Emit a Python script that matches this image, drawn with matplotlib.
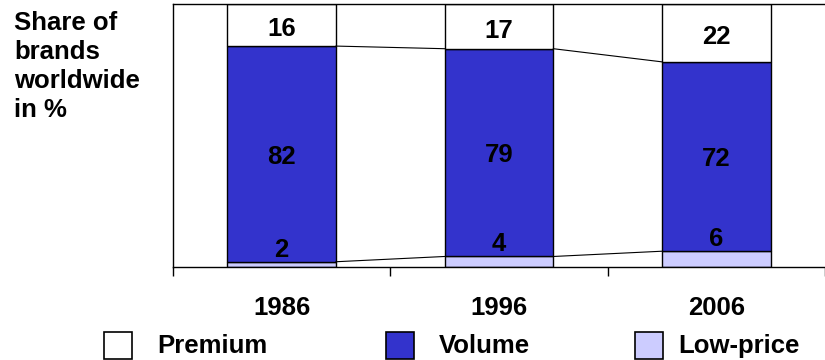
import matplotlib.pyplot as plt
from matplotlib.patches import Rectangle

# Brand segment shares per year (%)
years = ['1986', '1996', '2006']
low_price = [2, 4, 6]
volume = [82, 79, 72]
premium = [16, 17, 22]

col_premium = 'white'
col_volume = '#3333CC'
col_low = '#CCCCFF'

plt.rcParams['font.family'] = ['Liberation Sans', 'DejaVu Sans']
plt.rcParams['font.weight'] = 'bold'

fig = plt.figure(figsize=(8.25, 3.6), dpi=100)
ax = fig.add_axes([173 / 825, 1 - 267 / 360, 1 - 173 / 825, (267 - 4) / 360])

x = list(range(len(years)))
w = 0.5
vol_top = [l + v for l, v in zip(low_price, volume)]

ax.bar(x, low_price, w, color=col_low, edgecolor='black', linewidth=1)
ax.bar(x, volume, w, bottom=low_price, color=col_volume, edgecolor='black', linewidth=1)
ax.bar(x, premium, w, bottom=vol_top, color=col_premium, edgecolor='black', linewidth=1)

# connecting lines between neighbouring bars
for i in range(len(x) - 1):
    ax.plot([x[i] + w / 2, x[i + 1] - w / 2], [vol_top[i], vol_top[i + 1]], color='black', lw=0.8)
    ax.plot([x[i] + w / 2, x[i + 1] - w / 2], [low_price[i], low_price[i + 1]], color='black', lw=0.8)

fs = 18.5
for i in x:
    ax.annotate(str(premium[i]), (i, vol_top[i] + premium[i] / 2), xytext=(0, -3),
                textcoords='offset points', ha='center', va='center', fontsize=fs, fontweight='bold')
    ax.annotate(str(volume[i]), (i, low_price[i] + volume[i] / 2), xytext=(0, -2),
                textcoords='offset points', ha='center', va='center', fontsize=fs, fontweight='bold')
    ax.annotate(str(low_price[i]), (i, low_price[i]), xytext=(0, 0),
                textcoords='offset points', ha='center', va='bottom', fontsize=fs, fontweight='bold')

ax.set_xlim(-0.5, 2.5)
ax.set_ylim(0, 100)
ax.set_xticks(x)
ax.set_xticklabels(years, fontsize=fs, fontweight='bold')
ax.set_xticks([-0.5, 0.5, 1.5, 2.5], minor=True)
ax.tick_params(axis='x', which='major', length=0, pad=21)
ax.tick_params(axis='x', which='minor', length=6.5, width=1, direction='out')
ax.set_yticks([])
ax.spines['right'].set_visible(False)
for s in ['left', 'top', 'bottom']:
    ax.spines[s].set_linewidth(1)

fig.text(14 / 825, 1 - 11 / 360, 'Share of\nbrands\nworldwide\nin %', ha='left', va='top',
         fontsize=fs, fontweight='bold', linespacing=1.27)

# legend
legend_items = [('Premium', col_premium, 104, 157),
                ('Volume', col_volume, 386, 439),
                ('Low-price', col_low, 635, 678)]
for name, c, bx, tx in legend_items:
    fig.add_artist(Rectangle((bx / 825, 1 - 359 / 360), 28 / 825, 27 / 360,
                             transform=fig.transFigure, facecolor=c, edgecolor='black', lw=1.2))
    fig.text(tx / 825, 1 - 346 / 360, name, ha='left', va='center', fontsize=fs, fontweight='bold')

fig.savefig('out.png', dpi=100)
